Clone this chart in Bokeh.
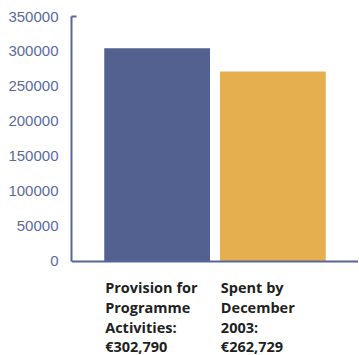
from bokeh.plotting import figure
from bokeh.models import Range1d, FactorRange, FixedTicker, PrintfTickFormatter, Span
from bokeh.embed import file_html
from bokeh.resources import INLINE
from bokeh.core.properties import value

categories = ["Provision", "Spent"]
cat_labels = ["Provision for\nProgramme\nActivities:\n€302,790",
              "Spent by\nDecember\n2003:\n€262,729"]
values = [304700, 271400]
bar_colors = ["#52618f", "#e5af50"]
y_ticks = [0, 50000, 100000, 150000, 200000, 250000, 300000, 350000]
y_max = 350000
y_below = -134286  # room under the baseline for the category texts

AXIS = "#56659a"

p = figure(width=358, height=355, output_backend="svg", toolbar_location=None,
           x_range=FactorRange(factors=categories, range_padding=0.24),
           y_range=Range1d(y_below, y_max),
           min_border_left=71, min_border_top=16, min_border_right=0, min_border_bottom=0)
p.outline_line_color = None
p.grid.visible = False
p.xaxis.visible = False
p.background_fill_color = "white"

p.vbar(x=categories, top=values, width=0.914, color=bar_colors, line_color=None)
p.add_layout(Span(location=0, dimension="width", line_color=AXIS, line_width=2))

ya = p.yaxis[0]
ya.bounds = (0, y_max)
ya.ticker = FixedTicker(ticks=y_ticks, minor_ticks=[y_max])
ya.formatter = PrintfTickFormatter(format="%d")
ya.axis_line_color = AXIS
ya.axis_line_width = 2
ya.major_tick_line_color = None
ya.minor_tick_in = 5
ya.minor_tick_out = 0
ya.minor_tick_line_color = AXIS
ya.minor_tick_line_width = 2
ya.major_label_text_font = "Liberation Sans"
ya.major_label_text_font_size = "15px"
ya.major_label_text_color = "#5b6a9e"
ya.major_label_standoff = 7

p.text(x=categories, y=[0] * len(categories), text=cat_labels,
       x_offset=-52, y_offset=17, text_align="left", text_baseline="top",
       text_font=value("Open Sans"), text_font_style="bold",
       text_font_size="14.5px", text_color="#231f20", text_line_height=1.03)

open("out.html", "w").write(file_html(p, INLINE))
